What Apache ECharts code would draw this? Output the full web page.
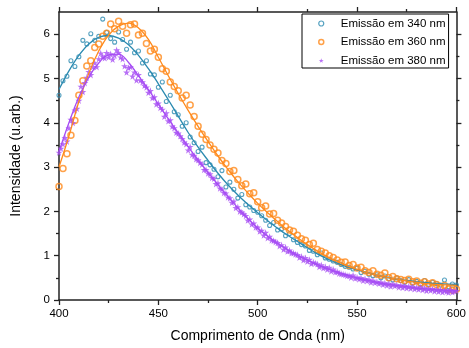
<!DOCTYPE html>
<html>
<head>
<meta charset="utf-8">
<script src="https://cdn.jsdelivr.net/npm/echarts@6/dist/echarts.min.js"></script>
<style>
  html, body { margin: 0; padding: 0; background: #fff; }
  #chart { width: 469px; height: 348px; }
</style>
</head>
<body>
<div id="chart"></div>
<script>
// Sampling of the measured spectra (nm)
const startNm = 400;
const stepCircles = 2;   // 340 nm and 360 nm spectra
const stepStars = 1;     // 380 nm spectrum
const stepFit = 5;       // fitted curves

// Emission spectrum, excitation 340 nm (400–600 nm, every 2 nm)
const em340 = [
  4.62, 4.95, 5.05, 5.40, 5.27, 5.49, 5.86, 5.78, 6.01, 5.86,
  5.95, 6.34, 6.04, 5.90, 5.82, 6.05, 5.88, 5.66, 5.82, 5.58,
  5.62, 5.35, 5.40, 5.10, 5.08, 4.80, 4.92, 4.48, 4.62, 4.25,
  4.18, 3.92, 4.00, 3.68, 3.55, 3.35, 3.45, 3.10, 3.05, 2.95,
  2.78, 2.92, 2.55, 2.66, 2.50, 2.30, 2.38, 2.15, 2.10, 2.02,
  1.98, 1.90, 1.80, 1.68, 1.75, 1.58, 1.60, 1.45, 1.50, 1.36,
  1.30, 1.25, 1.22, 1.12, 1.10, 1.02, 1.06, 0.95, 0.92, 0.88,
  0.85, 0.80, 0.76, 0.74, 0.70, 0.72, 0.62, 0.65, 0.58, 0.55,
  0.57, 0.50, 0.54, 0.48, 0.45, 0.50, 0.44, 0.40, 0.46, 0.38,
  0.42, 0.36, 0.44, 0.35, 0.40, 0.37, 0.34, 0.45, 0.30, 0.36,
  0.34
];

// Emission spectrum, excitation 360 nm (400–600 nm, every 2 nm)
const em360 = [
  2.56, 2.97, 3.30, 3.72, 4.05, 4.62, 4.95, 5.28, 5.40, 5.70,
  5.78, 5.95, 6.02, 6.23, 6.12, 6.29, 6.18, 6.02, 6.21, 6.23,
  5.98, 6.02, 5.79, 5.62, 5.66, 5.48, 5.22, 5.16, 4.92, 4.82,
  4.72, 4.56, 4.62, 4.40, 4.14, 3.92, 3.74, 3.62, 3.50, 3.40,
  3.32, 3.15, 3.08, 2.90, 2.92, 2.72, 2.58, 2.62, 2.40, 2.42,
  2.22, 2.08, 2.12, 1.94, 1.95, 1.80, 1.74, 1.66, 1.58, 1.55,
  1.46, 1.38, 1.35, 1.25, 1.28, 1.14, 1.10, 1.06, 1.00, 0.96,
  0.90, 0.85, 0.86, 0.78, 0.80, 0.72, 0.74, 0.66, 0.62, 0.66,
  0.58, 0.56, 0.61, 0.50, 0.53, 0.48, 0.46, 0.44, 0.47, 0.41,
  0.43, 0.38, 0.41, 0.36, 0.39, 0.35, 0.30, 0.33, 0.25, 0.22,
  0.24
];

// Emission spectrum, excitation 380 nm (400–600 nm, every 1 nm)
const em380 = [
  3.33, 3.42, 3.52, 3.66, 3.58, 3.88, 4.07, 4.00, 4.28, 4.32,
  4.50, 4.82, 4.70, 4.90, 5.02, 5.15, 5.08, 5.26, 5.35, 5.26,
  5.44, 5.57, 5.50, 5.46, 5.58, 5.48, 5.55, 5.43, 5.52, 5.64,
  5.58, 5.48, 5.44, 5.28, 5.14, 5.24, 5.26, 5.05, 5.14, 4.96,
  5.08, 4.96, 4.92, 4.84, 4.80, 4.68, 4.72, 4.56, 4.58, 4.42,
  4.44, 4.34, 4.30, 4.14, 4.22, 4.04, 4.06, 3.92, 3.88, 3.78,
  3.76, 3.70, 3.64, 3.56, 3.52, 3.38, 3.46, 3.28, 3.26, 3.18,
  3.16, 3.10, 3.06, 2.94, 2.94, 2.86, 2.84, 2.76, 2.74, 2.62,
  2.64, 2.52, 2.50, 2.42, 2.41, 2.32, 2.30, 2.20, 2.23, 2.08,
  2.10, 2.00, 1.98, 1.94, 1.90, 1.80, 1.82, 1.71, 1.73, 1.64,
  1.64, 1.55, 1.57, 1.46, 1.52, 1.40, 1.43, 1.35, 1.34, 1.31,
  1.29, 1.22, 1.24, 1.14, 1.19, 1.10, 1.12, 1.06, 1.06, 1.03,
  1.02, 0.96, 0.98, 0.90, 0.95, 0.87, 0.91, 0.82, 0.85, 0.83,
  0.81, 0.75, 0.79, 0.72, 0.75, 0.69, 0.73, 0.65, 0.69, 0.63,
  0.64, 0.60, 0.59, 0.58, 0.57, 0.55, 0.55, 0.51, 0.56, 0.49,
  0.51, 0.47, 0.50, 0.44, 0.48, 0.43, 0.46, 0.40, 0.44, 0.39,
  0.41, 0.37, 0.40, 0.35, 0.38, 0.33, 0.37, 0.31, 0.36, 0.32,
  0.34, 0.29, 0.33, 0.28, 0.32, 0.27, 0.31, 0.26, 0.30, 0.25,
  0.28, 0.24, 0.29, 0.23, 0.27, 0.21, 0.26, 0.22, 0.25, 0.20,
  0.24, 0.19, 0.23, 0.18, 0.22, 0.19, 0.17, 0.23, 0.18, 0.20,
  0.21
];

// Fitted curves (400–600 nm, every 5 nm)
const fit340 = [
  4.75, 5.17, 5.52, 5.78, 5.93, 5.97, 5.91, 5.76, 5.52, 5.22,
  4.88, 4.52, 4.15, 3.78, 3.45, 3.15, 2.86, 2.60, 2.37, 2.16,
  1.97, 1.79, 1.62, 1.46, 1.32, 1.18, 1.04, 0.93, 0.83, 0.75,
  0.68, 0.62, 0.56, 0.51, 0.47, 0.44, 0.41, 0.39, 0.37, 0.36,
  0.35
];
const fit360 = [
  3.00, 3.70, 4.48, 5.12, 5.62, 5.98, 6.18, 6.25, 6.14, 5.88,
  5.48, 5.06, 4.66, 4.28, 3.92, 3.58, 3.25, 2.95, 2.67, 2.42,
  2.18, 1.97, 1.77, 1.58, 1.41, 1.25, 1.11, 0.98, 0.87, 0.77,
  0.69, 0.62, 0.56, 0.51, 0.47, 0.43, 0.40, 0.37, 0.35, 0.34,
  0.33
];
const fit380 = [
  3.35, 4.00, 4.58, 5.03, 5.35, 5.53, 5.55, 5.36, 5.06, 4.75,
  4.42, 4.09, 3.77, 3.46, 3.16, 2.88, 2.60, 2.34, 2.08, 1.84,
  1.62, 1.44, 1.28, 1.14, 1.01, 0.90, 0.80, 0.71, 0.63, 0.56,
  0.50, 0.45, 0.40, 0.36, 0.33, 0.30, 0.27, 0.25, 0.23, 0.22,
  0.21
];

// Axis ticks and labels
const xTicks = [400, 450, 500, 550, 600];
const yMajorTicks = [0, 1, 2, 3, 4, 5, 6];
const yMinorTicks = [0.5, 1.5, 2.5, 3.5, 4.5, 5.5];

const seriesNames = ['Emissão em 340 nm', 'Emissão em 360 nm', 'Emissão em 380 nm'];
const colors = ['#2b8ab0', '#ff8a1c', '#a64cf4'];

const starPath = 'path://M50,0 L61,35 L98,35 L68,57 L79,91 L50,70 L21,91 L32,57 L2,35 L39,35 Z';

function toPairs(values, step) {
  return values.map((v, i) => [startNm + i * step, v]);
}

const axisColor = '#222';
const fontFamily = 'Liberation Sans, Arial, sans-serif';

function xAxisDef(pos, showLabel) {
  return {
    type: 'value', position: pos, min: xTicks[0], max: xTicks[xTicks.length - 1], interval: 50,
    axisLine: { show: true, onZero: false, lineStyle: { color: axisColor, width: 1.5 } },
    axisTick: { show: true, length: 5, lineStyle: { color: axisColor, width: 1.3 } },
    minorTick: { show: true, splitNumber: 2, length: 3, lineStyle: { color: axisColor, width: 1.3 } },
    splitLine: { show: false },
    minorSplitLine: { show: false },
    axisLabel: { show: showLabel, color: '#000', fontSize: 11.5, fontFamily, margin: 8 }
  };
}

function yAxisDef(pos, ticks, len, showLabel, showLine) {
  return {
    type: 'value', position: pos, min: 0, max: 6.5,
    axisLine: { show: showLine, onZero: false, lineStyle: { color: axisColor, width: 1.5 } },
    axisTick: { show: true, length: len, customValues: ticks, lineStyle: { color: axisColor, width: 1.3 } },
    splitLine: { show: false },
    axisLabel: { show: showLabel, customValues: ticks, color: '#000', fontSize: 11.5, fontFamily, margin: 9 }
  };
}

const xBottom = Object.assign(xAxisDef('bottom', true), {
  name: 'Comprimento de Onda (nm)', nameLocation: 'middle', nameGap: 29,
  nameTextStyle: { color: '#000', fontSize: 14, fontFamily }
});
const yLeft = Object.assign(yAxisDef('left', yMajorTicks, 5, true, true), {
  name: 'Intensidade (u.arb.)', nameLocation: 'middle', nameGap: 36,
  nameTextStyle: { color: '#000', fontSize: 14, fontFamily }
});

const legendIcons = [
  { icon: 'circle', size: 4, style: { color: 'rgba(0,0,0,0)', borderColor: colors[0], borderWidth: 1.2 } },
  { icon: 'circle', size: 5, style: { color: 'rgba(0,0,0,0)', borderColor: colors[1], borderWidth: 1.5 } },
  { icon: starPath, size: 5, style: { color: colors[2], borderWidth: 0 } }
];

const chart = echarts.init(document.getElementById('chart'), null, { renderer: 'canvas' });

chart.setOption({
  animation: false,
  backgroundColor: '#fff',
  grid: { left: 59, right: 7, top: 12, bottom: 41, containLabel: false },
  xAxis: [xBottom, xAxisDef('top', false)],
  yAxis: [
    yLeft,
    yAxisDef('left', yMinorTicks, 3, false, false),
    yAxisDef('right', yMajorTicks, 5, false, true),
    yAxisDef('right', yMinorTicks, 3, false, false)
  ],
  legend: {
    data: seriesNames.map((name, i) => ({
      name, icon: legendIcons[i].icon, itemStyle: legendIcons[i].style
    })),
    orient: 'vertical',
    left: 302, top: 14,
    padding: [3.5, 3, 1.5, 16],
    itemGap: 6.5,
    itemWidth: 5, itemHeight: 5,
    borderColor: '#000', borderWidth: 1,
    backgroundColor: '#fff',
    textStyle: { color: '#000', fontSize: 11.5, fontFamily, lineHeight: 12, padding: [0, 0, 0, 12] }
  },
  series: [
    {
      name: seriesNames[0], type: 'scatter', data: toPairs(em340, stepCircles),
      symbol: 'circle', symbolSize: 4,
      itemStyle: { color: 'rgba(0,0,0,0)', borderColor: colors[0], borderWidth: 1.1 },
      emphasis: { disabled: true }, z: 2
    },
    {
      name: seriesNames[1], type: 'scatter', data: toPairs(em360, stepCircles),
      symbol: 'circle', symbolSize: 6,
      itemStyle: { color: 'rgba(0,0,0,0)', borderColor: colors[1], borderWidth: 1.5 },
      emphasis: { disabled: true }, z: 2
    },
    {
      name: seriesNames[2], type: 'scatter', data: toPairs(em380, stepStars),
      symbol: starPath, symbolSize: 7,
      itemStyle: { color: colors[2] },
      emphasis: { disabled: true }, z: 2
    },
    {
      name: 'fit340', type: 'line', data: toPairs(fit340, stepFit), smooth: 0.4,
      showSymbol: false, lineStyle: { color: colors[0], width: 1.3 }, z: 3, silent: true
    },
    {
      name: 'fit360', type: 'line', data: toPairs(fit360, stepFit), smooth: 0.4,
      showSymbol: false, lineStyle: { color: colors[1], width: 1.3 }, z: 3, silent: true
    },
    {
      name: 'fit380', type: 'line', data: toPairs(fit380, stepFit), smooth: 0.4,
      showSymbol: false, lineStyle: { color: colors[2], width: 1.3 }, z: 3, silent: true
    }
  ]
});
</script>
</body>
</html>
